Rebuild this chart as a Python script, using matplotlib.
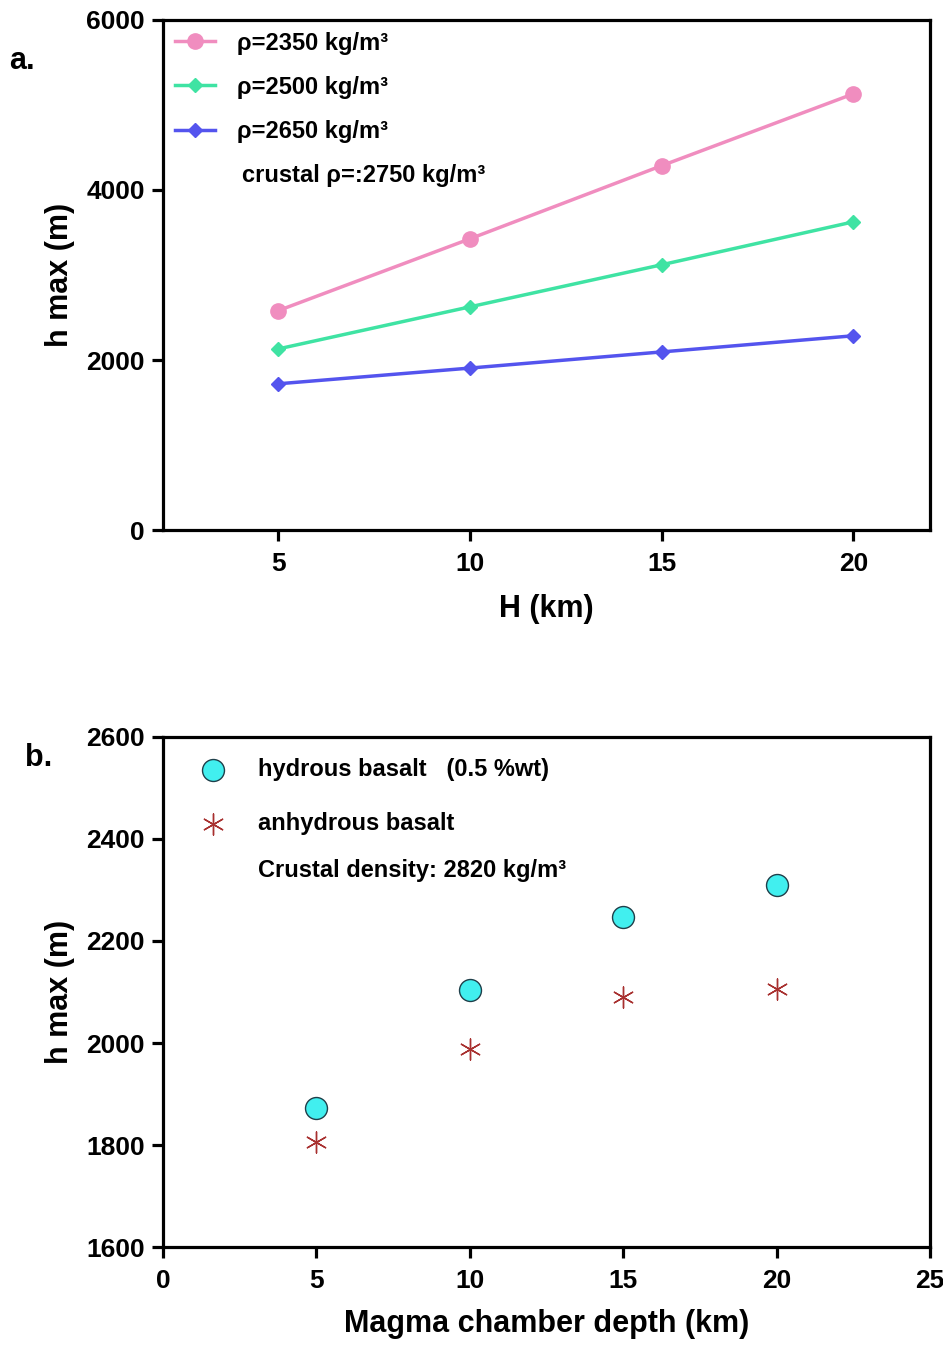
import matplotlib.pyplot as plt
import numpy as np

plt.rcParams['font.family'] = ['Liberation Sans', 'DejaVu Sans']
plt.rcParams['font.weight'] = 'bold'

# panel a: h max vs H for three magma densities
H_km = [5, 10, 15, 20]
h_2350 = [2580, 3425, 4285, 5130]
h_2500 = [2130, 2625, 3120, 3625]
h_2650 = [1720, 1905, 2095, 2285]
labels_a = ['ρ=2350 kg/m³', 'ρ=2500 kg/m³', 'ρ=2650 kg/m³']

# panel b: hydrous vs anhydrous basalt
depth_km = [5, 10, 15, 20]
h_hydrous = [1872, 2104, 2248, 2310]
h_anhydrous = [1805, 1988, 2090, 2106]

fig = plt.figure(figsize=(9.43, 13.47), dpi=100)
ax1 = fig.add_axes([0.1729, 0.6065, 0.8133, 0.3787])
ax2 = fig.add_axes([0.1729, 0.0742, 0.8133, 0.3787])

colors = ['#F08DBF', '#3FE3A3', '#5454EE']
markers = ['o', 'D', 'D']
msizes = [11, 7.5, 7.5]
for ys, c, m, ms, lab in zip([h_2350, h_2500, h_2650], colors, markers, msizes, labels_a):
    ax1.plot(H_km, ys, color=c, marker=m, markersize=ms, linewidth=2.5, label=lab)

ax1.set_xlim(2, 22)
ax1.set_ylim(0, 6000)
ax1.set_xticks([5, 10, 15, 20])
ax1.set_yticks([0, 2000, 4000, 6000])
ax1.set_xlabel('H (km)', fontsize=22, fontweight='bold', va='top')
ax1.set_ylabel('h max (m)', fontsize=22, fontweight='bold')
ax1.xaxis.set_label_coords(0.5, -0.125)
ax1.yaxis.set_label_coords(-0.1147, 0.5)
ax1.legend(loc='upper left', frameon=False, fontsize=17, handlelength=1.7,
           handletextpad=0.93, labelspacing=0.89, borderaxespad=0.1, borderpad=0.4)
ax1.text(0.103, 0.696, 'crustal ρ=:2750 kg/m³', transform=ax1.transAxes,
         fontsize=17, fontweight='bold', va='center', ha='left')

ax2.scatter(depth_km, h_hydrous, s=250, color='#41EFEF', edgecolor='#1F3F4A',
            linewidth=1.0, zorder=3, label='hydrous basalt   (0.5 %wt)')
ax2.scatter(depth_km, h_anhydrous, s=230, marker=(6, 2, 0), color='#A8302F',
            linewidth=1.0, zorder=3, label='anhydrous basalt')
ax2.set_xlim(0, 25)
ax2.set_ylim(1600, 2600)
ax2.set_xticks([0, 5, 10, 15, 20, 25])
ax2.set_yticks([1600, 1800, 2000, 2200, 2400, 2600])
ax2.set_xlabel('Magma chamber depth (km)', fontsize=22, fontweight='bold', va='top')
ax2.set_ylabel('h max (m)', fontsize=22, fontweight='bold')
ax2.xaxis.set_label_coords(0.5, -0.122)
ax2.yaxis.set_label_coords(-0.1147, 0.5)
ax2.legend(loc='upper left', frameon=False, fontsize=17, handlelength=2.46,
           handletextpad=0.68, labelspacing=1.31, borderaxespad=0.5, borderpad=0.4)
ax2.text(0.124, 0.739, 'Crustal density: 2820 kg/m³', transform=ax2.transAxes,
         fontsize=17, fontweight='bold', va='center', ha='left')

for ax in (ax1, ax2):
    for sp in ax.spines.values():
        sp.set_linewidth(2.3)
    ax.tick_params(direction='out', length=8, width=2.3, labelsize=19)
    ax.tick_params(axis='x', pad=8)
    ax.tick_params(axis='y', pad=5)
    for t in ax.get_xticklabels() + ax.get_yticklabels():
        t.set_fontweight('bold')

fig.text(0.010, 0.955, 'a.', fontsize=22, fontweight='bold', va='center')
fig.text(0.026, 0.437, 'b.', fontsize=22, fontweight='bold', va='center')

fig.savefig('out.png', dpi=100)
plt.close(fig)
